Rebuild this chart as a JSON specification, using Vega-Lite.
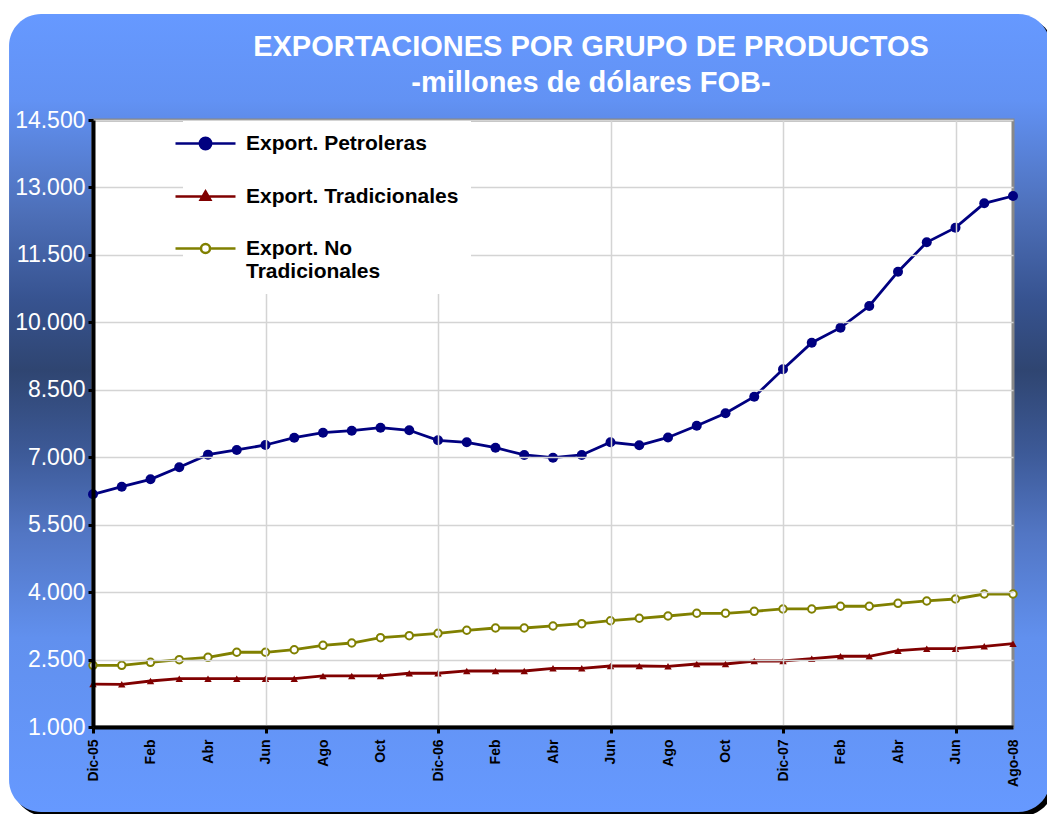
{
  "$schema": "https://vega.github.io/schema/vega-lite/v6.json",
  "width": 920,
  "height": 607,
  "autosize": "none",
  "padding": {"left": 93, "top": 120, "right": 34, "bottom": 87},
  "background": "white",
  "config": {
    "locale": {"number": {"decimal": ",", "thousands": ".", "grouping": [3], "currency": ["$", ""]}},
    "view": {"stroke": null},
    "font": "Liberation Sans"
  },
  "title": {
    "text": "EXPORTACIONES POR GRUPO DE PRODUCTOS",
    "subtitle": "-millones de dólares FOB-",
    "frame": "group",
    "anchor": "middle",
    "dx": 38,
    "offset": -84,
    "color": "white",
    "font": "Liberation Sans",
    "fontSize": 29,
    "fontWeight": "bold",
    "subtitleColor": "white",
    "subtitleFont": "Liberation Sans",
    "subtitleFontSize": 29,
    "subtitleFontWeight": "bold",
    "subtitlePadding": 7
  },
  "data": {"values": [
    {"i":0,"serie":"Export. Petroleras","valor":6175},{"i":0,"serie":"Export. Tradicionales","valor":1955},{"i":0,"serie":"Export. No Tradicionales","valor":2372},
    {"i":1,"serie":"Export. Petroleras","valor":6345},{"i":1,"serie":"Export. Tradicionales","valor":1950},{"i":1,"serie":"Export. No Tradicionales","valor":2372},
    {"i":2,"serie":"Export. Petroleras","valor":6509},{"i":2,"serie":"Export. Tradicionales","valor":2023},{"i":2,"serie":"Export. No Tradicionales","valor":2439},
    {"i":3,"serie":"Export. Petroleras","valor":6776},{"i":3,"serie":"Export. Tradicionales","valor":2075},{"i":3,"serie":"Export. No Tradicionales","valor":2497},
    {"i":4,"serie":"Export. Petroleras","valor":7057},{"i":4,"serie":"Export. Tradicionales","valor":2075},{"i":4,"serie":"Export. No Tradicionales","valor":2550},
    {"i":5,"serie":"Export. Petroleras","valor":7161},{"i":5,"serie":"Export. Tradicionales","valor":2075},{"i":5,"serie":"Export. No Tradicionales","valor":2662},
    {"i":6,"serie":"Export. Petroleras","valor":7272},{"i":6,"serie":"Export. Tradicionales","valor":2075},{"i":6,"serie":"Export. No Tradicionales","valor":2662},
    {"i":7,"serie":"Export. Petroleras","valor":7435},{"i":7,"serie":"Export. Tradicionales","valor":2075},{"i":7,"serie":"Export. No Tradicionales","valor":2719},
    {"i":8,"serie":"Export. Petroleras","valor":7546},{"i":8,"serie":"Export. Tradicionales","valor":2135},{"i":8,"serie":"Export. No Tradicionales","valor":2817},
    {"i":9,"serie":"Export. Petroleras","valor":7590},{"i":9,"serie":"Export. Tradicionales","valor":2135},{"i":9,"serie":"Export. No Tradicionales","valor":2868},
    {"i":10,"serie":"Export. Petroleras","valor":7657},{"i":10,"serie":"Export. Tradicionales","valor":2135},{"i":10,"serie":"Export. No Tradicionales","valor":2986},
    {"i":11,"serie":"Export. Petroleras","valor":7599},{"i":11,"serie":"Export. Tradicionales","valor":2195},{"i":11,"serie":"Export. No Tradicionales","valor":3031},
    {"i":12,"serie":"Export. Petroleras","valor":7376},{"i":12,"serie":"Export. Tradicionales","valor":2195},{"i":12,"serie":"Export. No Tradicionales","valor":3084},
    {"i":13,"serie":"Export. Petroleras","valor":7332},{"i":13,"serie":"Export. Tradicionales","valor":2246},{"i":13,"serie":"Export. No Tradicionales","valor":3151},
    {"i":14,"serie":"Export. Petroleras","valor":7212},{"i":14,"serie":"Export. Tradicionales","valor":2246},{"i":14,"serie":"Export. No Tradicionales","valor":3202},
    {"i":15,"serie":"Export. Petroleras","valor":7050},{"i":15,"serie":"Export. Tradicionales","valor":2246},{"i":15,"serie":"Export. No Tradicionales","valor":3202},
    {"i":16,"serie":"Export. Petroleras","valor":6990},{"i":16,"serie":"Export. Tradicionales","valor":2306},{"i":16,"serie":"Export. No Tradicionales","valor":3247},
    {"i":17,"serie":"Export. Petroleras","valor":7050},{"i":17,"serie":"Export. Tradicionales","valor":2306},{"i":17,"serie":"Export. No Tradicionales","valor":3298},
    {"i":18,"serie":"Export. Petroleras","valor":7332},{"i":18,"serie":"Export. Tradicionales","valor":2357},{"i":18,"serie":"Export. No Tradicionales","valor":3364},
    {"i":19,"serie":"Export. Petroleras","valor":7265},{"i":19,"serie":"Export. Tradicionales","valor":2357},{"i":19,"serie":"Export. No Tradicionales","valor":3418},
    {"i":20,"serie":"Export. Petroleras","valor":7440},{"i":20,"serie":"Export. Tradicionales","valor":2350},{"i":20,"serie":"Export. No Tradicionales","valor":3469},
    {"i":21,"serie":"Export. Petroleras","valor":7701},{"i":21,"serie":"Export. Tradicionales","valor":2401},{"i":21,"serie":"Export. No Tradicionales","valor":3529},
    {"i":22,"serie":"Export. Petroleras","valor":7977},{"i":22,"serie":"Export. Tradicionales","valor":2401},{"i":22,"serie":"Export. No Tradicionales","valor":3529},
    {"i":23,"serie":"Export. Petroleras","valor":8346},{"i":23,"serie":"Export. Tradicionales","valor":2468},{"i":23,"serie":"Export. No Tradicionales","valor":3573},
    {"i":24,"serie":"Export. Petroleras","valor":8955},{"i":24,"serie":"Export. Tradicionales","valor":2468},{"i":24,"serie":"Export. No Tradicionales","valor":3625},
    {"i":25,"serie":"Export. Petroleras","valor":9547},{"i":25,"serie":"Export. Tradicionales","valor":2519},{"i":25,"serie":"Export. No Tradicionales","valor":3625},
    {"i":26,"serie":"Export. Petroleras","valor":9881},{"i":26,"serie":"Export. Tradicionales","valor":2573},{"i":26,"serie":"Export. No Tradicionales","valor":3685},
    {"i":27,"serie":"Export. Petroleras","valor":10363},{"i":27,"serie":"Export. Tradicionales","valor":2573},{"i":27,"serie":"Export. No Tradicionales","valor":3685},
    {"i":28,"serie":"Export. Petroleras","valor":11126},{"i":28,"serie":"Export. Tradicionales","valor":2697},{"i":28,"serie":"Export. No Tradicionales","valor":3751},
    {"i":29,"serie":"Export. Petroleras","valor":11780},{"i":29,"serie":"Export. Tradicionales","valor":2742},{"i":29,"serie":"Export. No Tradicionales","valor":3803},
    {"i":30,"serie":"Export. Petroleras","valor":12105},{"i":30,"serie":"Export. Tradicionales","valor":2742},{"i":30,"serie":"Export. No Tradicionales","valor":3847},
    {"i":31,"serie":"Export. Petroleras","valor":12647},{"i":31,"serie":"Export. Tradicionales","valor":2795},{"i":31,"serie":"Export. No Tradicionales","valor":3958},
    {"i":32,"serie":"Export. Petroleras","valor":12810},{"i":32,"serie":"Export. Tradicionales","valor":2853},{"i":32,"serie":"Export. No Tradicionales","valor":3958}
  ]},
  "layer": [
    {
      "data": {"values": [{}]},
      "mark": {"type": "rect", "clip": false, "cornerRadius": 32, "color": "black"},
      "encoding": {
        "x": {"datum": -2.78, "type": "quantitative"},
        "x2": {"datum": 33.43},
        "y": {"datum": 16768, "type": "quantitative"},
        "y2": {"datum": -979}
      }
    },
    {
      "data": {"values": [{}]},
      "mark": {
        "type": "rect", "clip": false, "cornerRadius": 32,
        "color": {
          "gradient": "linear", "x1": 0, "y1": 0, "x2": 0, "y2": 1,
          "stops": [
            {"offset": 0, "color": "#6699ff"},
            {"offset": 0.108, "color": "#6292f4"},
            {"offset": 0.25, "color": "#4d6fb8"},
            {"offset": 0.358, "color": "#375390"},
            {"offset": 0.446, "color": "#2f4571"},
            {"offset": 0.551, "color": "#3d5a98"},
            {"offset": 0.652, "color": "#5276c4"},
            {"offset": 0.782, "color": "#6190ee"},
            {"offset": 1, "color": "#6699ff"}
          ]
        }
      },
      "encoding": {
        "x": {"datum": -2.92, "type": "quantitative"},
        "x2": {"datum": 33.29},
        "y": {"datum": 16857, "type": "quantitative"},
        "y2": {"datum": -890}
      }
    },
    {
      "data": {"values": [{}]},
      "mark": {"type": "rect", "clip": false, "fill": "white", "stroke": "#888888", "strokeWidth": 3},
      "encoding": {
        "x": {"datum": 0, "type": "quantitative"},
        "x2": {"datum": 32},
        "y": {"datum": 1000, "type": "quantitative"},
        "y2": {"datum": 14500}
      }
    },
    {
      "mark": {"type": "line", "strokeWidth": 2.8},
      "encoding": {
        "x": {
          "field": "i", "type": "quantitative",
          "scale": {"domain": [0, 32], "nice": false, "zero": false},
          "axis": {
            "title": null,
            "values": [0,1,2,3,4,5,6,7,8,9,10,11,12,13,14,15,16,17,18,19,20,21,22,23,24,25,26,27,28,29,30,31,32],
            "labelExpr": "['Dic-05','Ene','Feb','Mar','Abr','May','Jun','Jul','Ago','Sep','Oct','Nov','Dic-06','Ene','Feb','Mar','Abr','May','Jun','Jul','Ago','Sep','Oct','Nov','Dic-07','Ene','Feb','Mar','Abr','May','Jun','Jul','Ago-08'][datum.value]",
            "labelAngle": 270,
            "labelColor": "black",
            "labelFont": "Liberation Sans",
            "labelFontSize": 14,
            "labelFontWeight": "bold",
            "labelPadding": 6,
            "labelOverlap": false,
            "labelFlush": false,
            "domainColor": "black",
            "domainWidth": 4,
            "tickColor": "black",
            "tickWidth": 3,
            "tickSize": 6,
            "tickOpacity": {"condition": {"test": "datum.value % 6 === 0", "value": 1}, "value": 0},
            "grid": true,
            "gridColor": "#d4d4d4",
            "gridWidth": 1.5,
            "gridOpacity": {"condition": {"test": "datum.value % 6 === 0", "value": 1}, "value": 0},
            "zindex": 1
          }
        },
        "y": {
          "field": "valor", "type": "quantitative",
          "scale": {"domain": [1000, 14500], "nice": false, "zero": false},
          "axis": {
            "title": null,
            "values": [1000, 2500, 4000, 5500, 7000, 8500, 10000, 11500, 13000, 14500],
            "format": ",d",
            "labelColor": "white",
            "labelFont": "Liberation Sans",
            "labelFontSize": 23,
            "labelPadding": 3,
            "tickColor": "black",
            "tickWidth": 3,
            "tickSize": 5,
            "domainColor": "black",
            "domainWidth": 4,
            "grid": true,
            "gridColor": "#d4d4d4",
            "gridWidth": 1.5,
            "zindex": 1
          }
        },
        "stroke": {
          "field": "serie", "type": "nominal",
          "scale": {"domain": ["Export. Petroleras", "Export. Tradicionales", "Export. No Tradicionales"], "range": ["#000080", "#800000", "#808000"]},
          "legend": {
            "orient": "none",
            "legendX": 90,
            "legendY": 1,
            "title": null,
            "fillColor": "white",
            "padding": 12,
            "symbolSize": 144,
            "symbolStrokeWidth": 2.5,
            "labelFont": "Liberation Sans",
            "labelFontSize": 21,
            "labelFontWeight": "bold",
            "labelColor": "black",
            "labelOffset": 30,
            "labelLimit": 400,
            "rowPadding": 30,
            "zindex": 2,
            "labelExpr": "datum.label == 'Export. No Tradicionales' ? ['Export. No', 'Tradicionales'] : datum.label",
            "encode": {
              "symbols": {
                "update": {
                  "shape": {"signal": "datum.value === 'Export. Petroleras' ? 'M-5,0H5M-0.95,0A0.95,0.95,0,1,1,0.95,0A0.95,0.95,0,1,1,-0.95,0Z' : datum.value === 'Export. Tradicionales' ? 'M-5,0H5M0,-0.85L0.8,0.55L-0.8,0.55Z' : 'M-5,0H-0.75M0.75,0H5M-0.75,0A0.75,0.75,0,1,1,0.75,0A0.75,0.75,0,1,1,-0.75,0Z'"},
                  "fill": {"signal": "datum.value === 'Export. Petroleras' ? '#000080' : datum.value === 'Export. Tradicionales' ? '#800000' : '#ffffff'"},
                  "strokeWidth": {"value": 2.5},
                  "fillOpacity": {"value": 1},
                  "strokeOpacity": {"value": 1},
                  "opacity": {"value": 1}
                }
              }
            }
          }
        }
      }
    },
    {
      "transform": [{"filter": {"field": "serie", "equal": "Export. Petroleras"}}],
      "mark": {"type": "point", "shape": "circle", "filled": true, "color": "#000080", "size": 100, "opacity": 1},
      "encoding": {
        "x": {"field": "i", "type": "quantitative"},
        "y": {"field": "valor", "type": "quantitative"}
      }
    },
    {
      "transform": [{"filter": {"field": "serie", "equal": "Export. Tradicionales"}}],
      "mark": {"type": "point", "shape": "triangle-up", "filled": true, "color": "#800000", "size": 55, "opacity": 1},
      "encoding": {
        "x": {"field": "i", "type": "quantitative"},
        "y": {"field": "valor", "type": "quantitative"}
      }
    },
    {
      "transform": [{"filter": {"field": "serie", "equal": "Export. No Tradicionales"}}],
      "mark": {"type": "point", "shape": "circle", "filled": true, "fill": "#ffffff", "stroke": "#808000", "strokeWidth": 2, "size": 55, "opacity": 1},
      "encoding": {
        "x": {"field": "i", "type": "quantitative"},
        "y": {"field": "valor", "type": "quantitative"}
      }
    }
  ]
}
